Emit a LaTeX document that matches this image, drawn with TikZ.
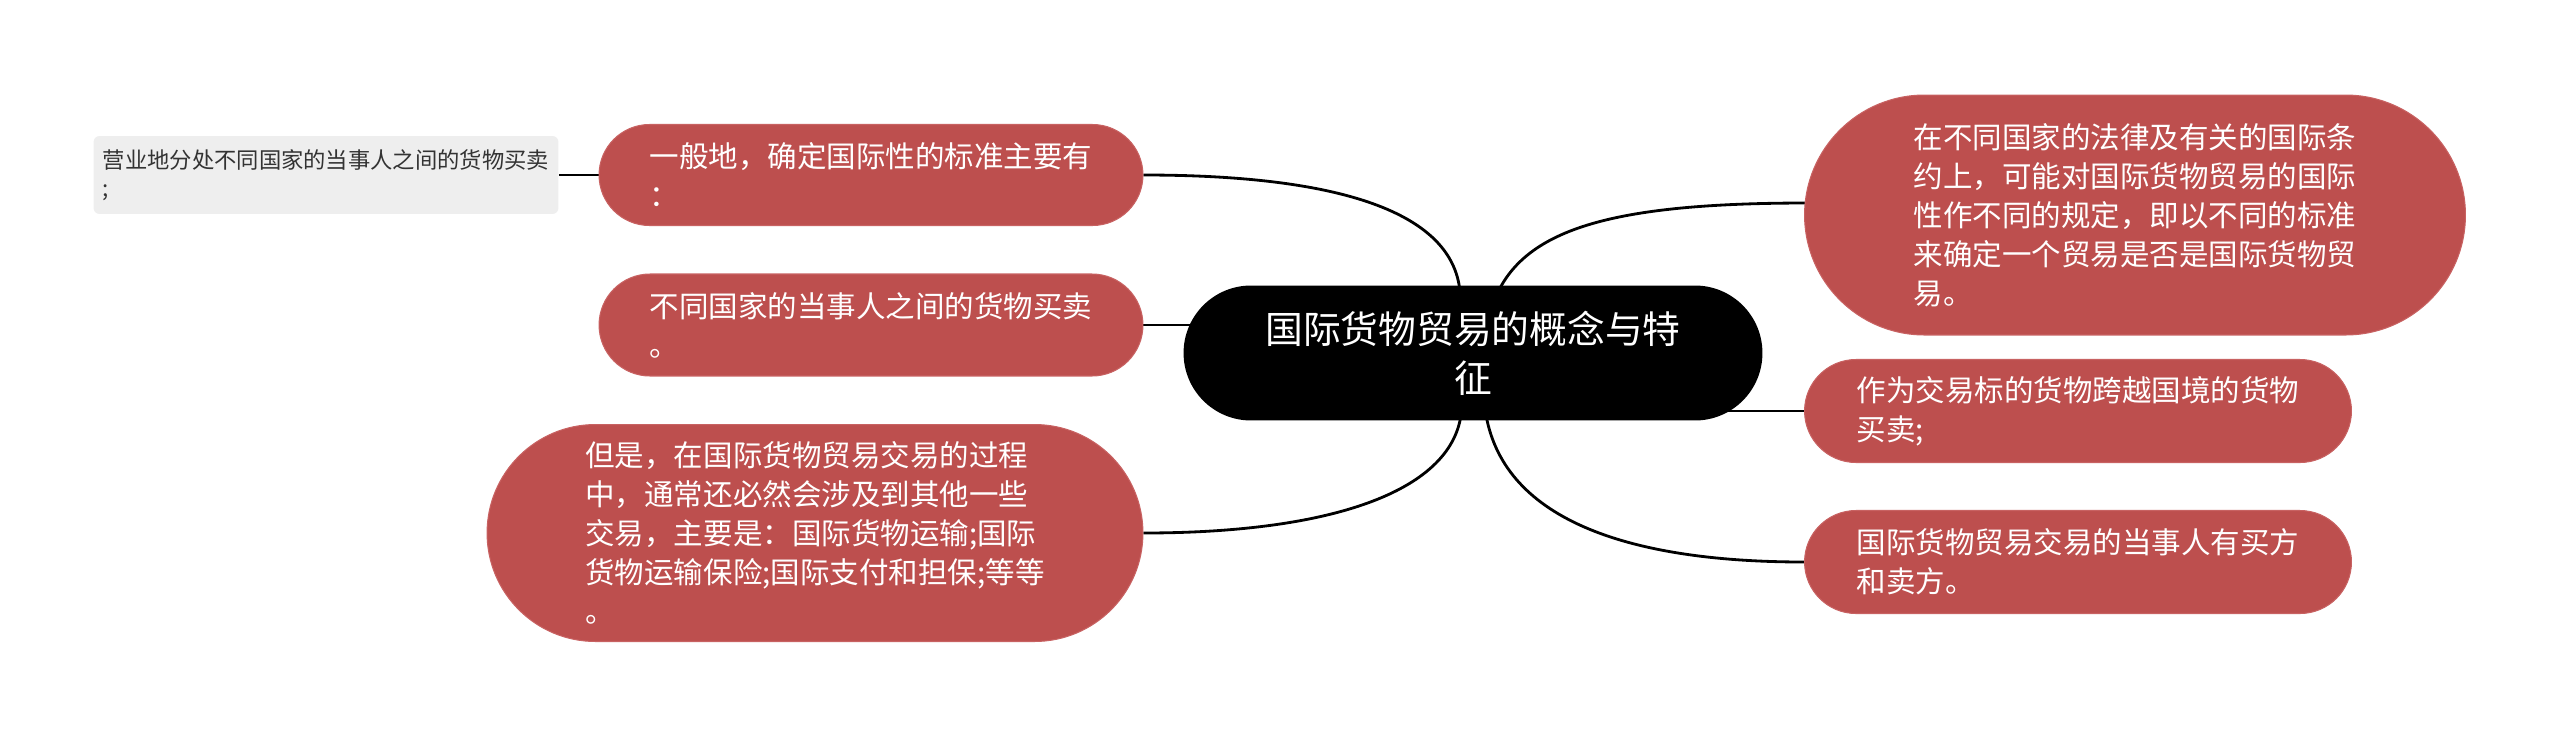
\documentclass[tikz,border=0pt]{standalone}
\usepackage{fontspec}
\setmainfont{Noto Sans CJK SC}
\usetikzlibrary{shapes.misc,backgrounds}
\definecolor{nodered}{HTML}{BD4F4E}
\definecolor{nodeedge}{HTML}{C86262}
\definecolor{graybg}{HTML}{EEEEEE}
\definecolor{graytext}{HTML}{333333}
\begin{document}
\begin{tikzpicture}[x=0.02cm,y=-0.02cm,
  redbox/.style={rounded rectangle, fill=nodered, draw=nodeedge, line width=0.6pt,
    text=white, align=left, font=\fontsize{16.8pt}{22.2pt}\selectfont, inner sep=0pt},
  rootbox/.style={rounded rectangle, fill=black, text=white, align=center,
    font=\fontsize{21.5pt}{28pt}\selectfont, minimum width=11.58cm, minimum height=2.7cm, inner sep=0pt},
  graybox/.style={rectangle, rounded corners=0.12cm, fill=graybg, text=graytext, align=left,
    font=\fontsize{12.7pt}{16pt}\selectfont, minimum width=9.3cm, minimum height=1.56cm, inner sep=0pt},
  link/.style={draw=black, line width=1.6pt}]
\useasboundingbox (0,0) rectangle (2560,738);

\node[rootbox] (C) at (1473,353) {国际货物贸易的概念与特\\征};

\node[redbox, minimum width=10.88cm, minimum height=2.02cm] (LT) at (871,175)
  {一般地，确定国际性的标准主要有\\：};
\node[redbox, minimum width=10.88cm, minimum height=2.04cm] (LM) at (871,325)
  {不同国家的当事人之间的货物买卖\\。};
\node[redbox, minimum width=13.12cm, minimum height=4.34cm] (LB) at (815,533)
  {但是，在国际货物贸易交易的过程\\中，通常还必然会涉及到其他一些\\交易，主要是：国际货物运输;国际\\货物运输保险;国际支付和担保;等等\\。};
\node[graybox] (G) at (326,175)
  {营业地分处不同国家的当事人之间的货物买卖\\;};
\node[redbox, minimum width=13.22cm, minimum height=4.80cm] (RT) at (2135,215)
  {在不同国家的法律及有关的国际条\\约上，可能对国际货物贸易的国际\\性作不同的规定，即以不同的标准\\来确定一个贸易是否是国际货物贸\\易。};
\node[redbox, minimum width=10.94cm, minimum height=2.06cm] (RM) at (2078,411)
  {作为交易标的货物跨越国境的货物\\买卖;};
\node[redbox, minimum width=10.94cm, minimum height=2.06cm] (RB) at (2078,562)
  {国际货物贸易交易的当事人有买方\\和卖方。};

\coordinate (cLT) at (1460,292);
\coordinate (cRT) at (1498,292);
\coordinate (cLB) at (1461,415);
\coordinate (cRB) at (1486,415);
\coordinate (rtin) at (1808,203);

\begin{scope}[on background layer]
  \draw[link] (G.east) -- (LT.west);
  \draw[link] (LT.east) .. controls (1339,175) and (1453,212) .. (cLT);
  \draw[link] (cRT) .. controls (1530,226) and (1622,203) .. (rtin);
  \draw[link] (LM.east) -- (LM.east -| C.center);
  \draw[link] (RM.west) -- (RM.west -| C.center);
  \draw[link] (cLB) .. controls (1450,492) and (1330,533) .. (LB.east);
  \draw[link] (cRB) .. controls (1505,522) and (1633,562) .. (RB.west);
\end{scope}
\end{tikzpicture}
\end{document}
